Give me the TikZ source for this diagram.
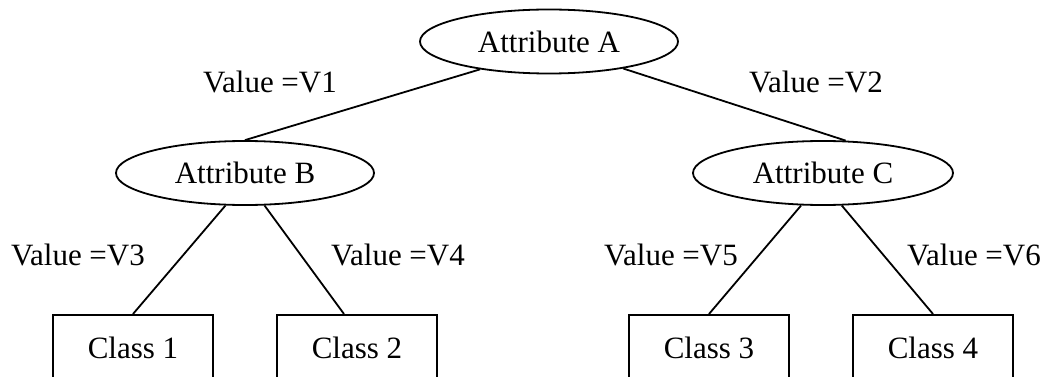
\documentclass[tikz,border=0pt]{standalone}
\usepackage{fontspec}
\setmainfont{Liberation Serif}
\usetikzlibrary{shapes.geometric,calc}

\tikzset{
  attr/.style={draw, ellipse, line width=1.8pt, inner sep=0pt,
    minimum width=258pt, minimum height=64pt},
  leaf/.style={draw, rectangle, line width=1.8pt, inner sep=0pt,
    minimum width=160pt, minimum height=66pt, anchor=north},
  branch/.style={line width=1.8pt},
  vlabel/.style={anchor=base, inner sep=0pt},
}

\begin{document}
\begin{tikzpicture}[x=1pt, y=-1pt, font=\fontsize{31}{37}\selectfont]
  \useasboundingbox (0,0) rectangle (1049,377);
  \clip (0,0) rectangle (1049,377);

  % decision nodes
  \node[attr] (A) at (549,41.5) {\raisebox{-3pt}{Attribute A}};
  \node[attr] (B) at (245,173)  {\raisebox{-3pt}{Attribute B}};
  \node[attr, minimum width=260pt] (C) at (823,173) {\raisebox{-3pt}{Attribute C}};

  % leaf classes (bottoms run past the lower edge)
  \node[leaf] (c1) at (133,314) {\raisebox{-1pt}{Class 1}};
  \node[leaf] (c2) at (357,314) {\raisebox{-1pt}{Class 2}};
  \node[leaf] (c3) at (709,314) {\raisebox{-1pt}{Class 3}};
  \node[leaf] (c4) at (933,314) {\raisebox{-1pt}{Class 4}};

  % branches
  \draw[branch] (A.202) -- (B.north);
  \draw[branch] (A.340) -- (C.55);
  \draw[branch] (B.239) -- (c1.north);
  \draw[branch] (B.301) -- ($(c2.north)+(-13,0)$);
  \draw[branch] (C.236) -- (c3.north);
  \draw[branch] (C.300) -- (c4.north);

  % branch values
  \node[vlabel] (v1) at (270,93)  {Value =V1};
  \node[vlabel] (v2) at (816,93)  {Value =V2};
  \node[vlabel] (v3) at (78,265)  {Value =V3};
  \node[vlabel] (v4) at (398,265) {Value =V4};
  \node[vlabel] (v5) at (671,265) {Value =V5};
  \node[vlabel] (v6) at (974,265) {Value =V6};
\end{tikzpicture}
\end{document}
